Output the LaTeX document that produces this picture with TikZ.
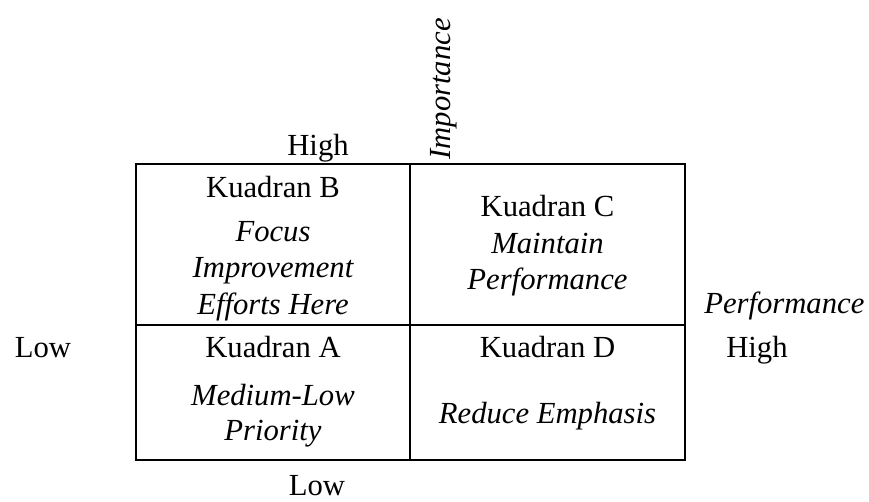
\documentclass[tikz,border=0pt]{standalone}
\usepackage{fontspec}
\setmainfont{Liberation Serif}
\usepackage{tikz}
\usetikzlibrary{positioning}

\begin{document}
\begin{tikzpicture}[x=0.75pt,y=0.75pt,yscale=-1,xscale=1,
  lbl/.style={anchor=base,inner sep=0pt,font=\fontsize{23}{27.6}\selectfont},
  lbli/.style={lbl,font=\fontsize{23}{27.6}\selectfont\itshape}]
\useasboundingbox (0,0) rectangle (869,502);

%Shape: Rectangle [grid frame]
\draw [line width=1.5] (136,164) rectangle (685,460) ;
%Straight Lines [vertical divider]
\draw [line width=1.5] (410,164) -- (410,460) ;
%Straight Lines [horizontal divider]
\draw [line width=1.5] (136,325) -- (685,325) ;

%Text Node [quadrant B]
\node [lbl] (kuadB) at (273,198) {Kuadran B};
\node [lbli] (focus) at (273,241.5) {Focus};
\node [lbli] (improve) at (273,278) {Improvement};
\node [lbli] (efforts) at (273,315) {Efforts Here};
%Text Node [quadrant C]
\node [lbl] (kuadC) at (547.5,216.5) {Kuadran C};
\node [lbli] (maintain) at (547.5,254) {Maintain};
\node [lbli] (perfC) at (547.5,290) {Performance};
%Text Node [quadrant A]
\node [lbl] (kuadA) at (273,358) {Kuadran A};
\node [lbli] (medium) at (273,406) {Medium-Low};
\node [lbli] (priority) at (273,441) {Priority};
%Text Node [quadrant D]
\node [lbl] (kuadD) at (547.5,358) {Kuadran D};
\node [lbli] (reduce) at (547.5,424) {Reduce Emphasis};

%Text Node [importance axis]
\node [lbl] (highI) at (318,156) {High};
\node [lbli,rotate=90] (importance) at (450,89) {Importance};
\node [lbl] (lowI) at (317,496) {Low};
%Text Node [performance axis]
\node [lbl] (lowP) at (43,358) {Low};
\node [lbli,anchor=base west] (perf) at (704,314) {Performance};
\node [lbl,anchor=base west] (highP) at (726,358) {High};

\end{tikzpicture}
\end{document}
